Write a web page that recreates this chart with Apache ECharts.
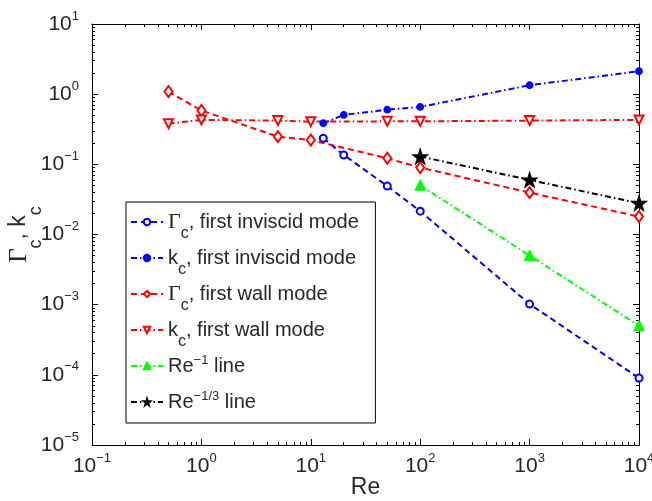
<!DOCTYPE html>
<html>
<head>
<meta charset="utf-8">
<script src="https://cdn.jsdelivr.net/npm/echarts@6/dist/echarts.min.js"></script>
<style>html,body{margin:0;padding:0;background:#fff}#c{width:652px;height:501px}</style>
</head>
<body>
<div id="c"></div>
<script>
// ---- data ----
const reInviscid = [13, 20, 50, 100, 1000, 10000];
const gammaInviscid = [0.235, 0.136, 0.049, 0.0215, 0.00102, 0.00009];
const kInviscid = [0.385, 0.506, 0.601, 0.658, 1.34, 2.12];
const reWall = [0.5, 1, 5, 10, 50, 100, 1000, 10000];
const gammaWall = [1.09, 0.585, 0.248, 0.222, 0.122, 0.0898, 0.0395, 0.018];
const kWall = [0.38, 0.43, 0.42, 0.406, 0.41, 0.41, 0.42, 0.43];
const reRef = [100, 1000, 10000];
const reMinus1 = [0.05, 0.005, 0.0005];
const reMinusThird = [0.129, 0.06, 0.0279];
const seriesNames = ['Γc, first inviscid mode', 'kc, first inviscid mode', 'Γc, first wall mode', 'kc, first wall mode', 'Re^-1 line', 'Re^-1/3 line'];
const xTickExps = [-1, 0, 1, 2, 3, 4];
const yTickExps = [-5, -4, -3, -2, -1, 0, 1];

const pow10 = e => Math.pow(10, e);
const xMajor = xTickExps.map(pow10);
const yMajor = yTickExps.map(pow10);
function minorTicks(exps) {
  const out = [];
  for (let i = 0; i < exps.length - 1; i++) for (let k = 2; k <= 9; k++) out.push(k * pow10(exps[i]));
  return out;
}
const xMinor = minorTicks(xTickExps);
const yMinor = minorTicks(yTickExps);

const TXT = '#262626';
const SANS = 'Liberation Sans';
const tickRich = {
  b: {fontSize: 21, lineHeight: 26, verticalAlign: 'middle', fontFamily: SANS, color: TXT},
  s: {fontSize: 13, height: 10, lineHeight: 10, verticalAlign: 'top', fontFamily: SANS, color: TXT}
};
function tickFmt(v) {
  const e = Math.round(Math.log10(v));
  return '{b|10}{s|' + (e < 0 ? '\u2212' + (-e) : e) + '}';
}

function mkAxis(isX, pos, major, showLabel) {
  const ticks = major ? (isX ? xMajor : yMajor) : (isX ? xMinor : yMinor);
  return {
    type: 'log', logBase: 10, position: pos,
    min: isX ? xMajor[0] : yMajor[0],
    max: isX ? xMajor[xMajor.length - 1] : yMajor[yMajor.length - 1],
    axisLine: {show: major, onZero: false, lineStyle: {color: '#000', width: 1}},
    axisTick: {show: true, inside: true, length: major ? 6 : 3, customValues: ticks, lineStyle: {color: '#000', width: 1}},
    axisLabel: showLabel ? {show: true, customValues: ticks, formatter: tickFmt, rich: tickRich, margin: isX ? 8 : 13, hideOverlap: false} : {show: false},
    splitLine: {show: false}, minorTick: {show: false}, minorSplitLine: {show: false},
    silent: true
  };
}

const xAxes = [mkAxis(true, 'bottom', true, true), mkAxis(true, 'bottom', false, false), mkAxis(true, 'top', true, false), mkAxis(true, 'top', false, false)];
const yAxes = [mkAxis(false, 'left', true, true), mkAxis(false, 'left', false, false), mkAxis(false, 'right', true, false), mkAxis(false, 'right', false, false)];
Object.assign(xAxes[0], {
  name: 'Re', nameLocation: 'middle', nameGap: 31, nameMoveOverlap: false,
  nameTextStyle: {fontSize: 23, fontFamily: SANS, color: TXT}
});
Object.assign(yAxes[0], {
  name: '{g|Γ}{sb|c}{n|, k}{sb|c}', nameLocation: 'middle', nameGap: 51, nameRotate: 90, nameMoveOverlap: false,
  nameTextStyle: {
    rich: {
      g: {fontSize: 25, lineHeight: 44, verticalAlign: 'middle', fontFamily: 'Liberation Serif', color: TXT},
      n: {fontSize: 23, lineHeight: 44, verticalAlign: 'middle', fontFamily: SANS, color: TXT},
      sb: {fontSize: 18, height: 10, lineHeight: 10, verticalAlign: 'bottom', fontFamily: SANS, color: TXT}
    }
  }
});

const legendLabels = {
  'Γc, first inviscid mode': '{g|Γ}{sb|c}{n|, first inviscid mode}{sp|\u00a0}',
  'kc, first inviscid mode': '{n|k}{sb|c}{n|, first inviscid mode}{sp|\u00a0}',
  'Γc, first wall mode': '{g|Γ}{sb|c}{n|, first wall mode}{sp|\u00a0}',
  'kc, first wall mode': '{n|k}{sb|c}{n|, first wall mode}{sp|\u00a0}',
  'Re^-1 line': '{n|Re}{sp|\u22121}{n|\u00a0line}{sb|\u00a0}',
  'Re^-1/3 line': '{n|Re}{sp|\u22121/3}{n|\u00a0line}{sb|\u00a0}'
};

const STAR = 'path://M50,0 L61.8,35.1 L98.1,35.1 L68.8,56.8 L79.4,90.9 L50,69.1 L20.6,90.9 L31.2,56.8 L1.9,35.1 L38.2,35.1 Z';
const DASH = [6, 4];
const DASHDOT = [6, 3, 1.5, 3];
function pts(xs, ys) { return xs.map((x, i) => [x, ys[i]]); }
function line(name, xs, ys, color, dash, symbol, size, extra) {
  return Object.assign({
    name, type: 'line', xAxisIndex: 0, yAxisIndex: 0,
    data: pts(xs, ys), symbol, symbolSize: size, showSymbol: true,
    lineStyle: {color, width: 2, type: dash},
    itemStyle: {color, borderColor: color, borderWidth: 1.8},
    emphasis: {disabled: true}, animation: false
  }, extra || {});
}

const option = {
  backgroundColor: '#fff',
  animation: false,
  grid: {left: 92, right: 13, top: 24, bottom: 56, containLabel: false, outerBoundsMode: 'none'},
  xAxis: xAxes,
  yAxis: yAxes,
  legend: {
    orient: 'vertical', left: 126, top: 202,
    backgroundColor: '#fff', borderColor: '#000', borderWidth: 1, borderRadius: 0,
    padding: [4, 13, 1, 4], itemWidth: 32, itemHeight: 8, itemGap: 0,
    selectedMode: false,
    data: seriesNames,
    formatter: name => legendLabels[name],
    textStyle: {
      color: TXT, fontFamily: SANS, fontSize: 20,
      rich: {
        g: {fontSize: 22, lineHeight: 32, verticalAlign: 'middle', fontFamily: 'Liberation Serif', color: TXT},
        n: {fontSize: 20, lineHeight: 32, verticalAlign: 'middle', fontFamily: SANS, color: TXT},
        sb: {fontSize: 16, height: 8, lineHeight: 8, verticalAlign: 'bottom', fontFamily: SANS, color: TXT},
        sp: {fontSize: 13, height: 20, lineHeight: 20, verticalAlign: 'top', fontFamily: SANS, color: TXT}
      }
    }
  },
  series: [
    line(seriesNames[0], reInviscid, gammaInviscid, '#0000ff', DASH, 'emptyCircle', 7),
    line(seriesNames[1], reInviscid, kInviscid, '#0000ff', DASHDOT, 'circle', 6),
    line(seriesNames[2], reWall, gammaWall, '#ff0000', DASH, 'emptyDiamond', [8, 11]),
    line(seriesNames[3], reWall, kWall, '#ff0000', DASHDOT, 'emptyTriangle', 9, {symbolRotate: 180}),
    line(seriesNames[4], reRef, reMinus1, '#00ff00', DASHDOT, 'triangle', 9),
    line(seriesNames[5], reRef, reMinusThird, '#000000', DASHDOT, STAR, 13)
  ]
};

const chart = echarts.init(document.getElementById('c'), null, {renderer: 'canvas'});
chart.setOption(option);
</script>
</body>
</html>
